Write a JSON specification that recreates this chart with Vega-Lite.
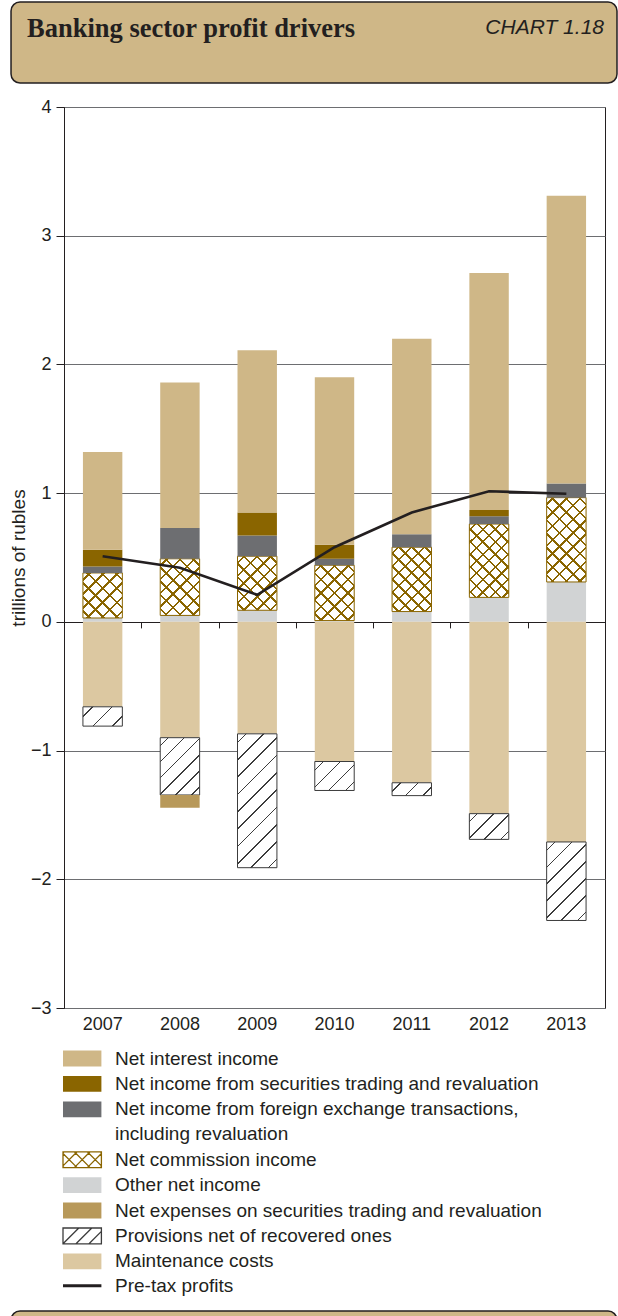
{
"$schema": "https://vega.github.io/schema/vega-lite/v6.json",
"background": "white",
"padding": {"left": 8, "top": 1, "right": 0, "bottom": 0},
"columns": 1,
"spacing": 13,
"resolve": {"legend": {"color": "independent", "shape": "independent", "stroke": "independent"}},
"config": {"font": "Liberation Sans", "style": {"guide-label": {"lineHeight": 25.2}}},
"datasets": {
"bars": [
{"year":2007,"series":"Other net income","k":1,"value":0.03},
{"year":2007,"series":"Net commission income","k":2,"value":0.35},
{"year":2007,"series":"Net income from foreign exchange transactions, including revaluation","k":3,"value":0.05},
{"year":2007,"series":"Net income from securities trading and revaluation","k":4,"value":0.13},
{"year":2007,"series":"Net interest income","k":5,"value":0.76},
{"year":2007,"series":"Maintenance costs","k":6,"value":-0.66},
{"year":2007,"series":"Provisions net of recovered ones","k":7,"value":-0.15},
{"year":2008,"series":"Other net income","k":1,"value":0.05},
{"year":2008,"series":"Net commission income","k":2,"value":0.44},
{"year":2008,"series":"Net income from foreign exchange transactions, including revaluation","k":3,"value":0.24},
{"year":2008,"series":"Net interest income","k":5,"value":1.13},
{"year":2008,"series":"Maintenance costs","k":6,"value":-0.90},
{"year":2008,"series":"Provisions net of recovered ones","k":7,"value":-0.445},
{"year":2008,"series":"Net expenses on securities trading and revaluation","k":8,"value":-0.10},
{"year":2009,"series":"Other net income","k":1,"value":0.09},
{"year":2009,"series":"Net commission income","k":2,"value":0.42},
{"year":2009,"series":"Net income from foreign exchange transactions, including revaluation","k":3,"value":0.16},
{"year":2009,"series":"Net income from securities trading and revaluation","k":4,"value":0.18},
{"year":2009,"series":"Net interest income","k":5,"value":1.26},
{"year":2009,"series":"Maintenance costs","k":6,"value":-0.87},
{"year":2009,"series":"Provisions net of recovered ones","k":7,"value":-1.04},
{"year":2010,"series":"Other net income","k":1,"value":0.01},
{"year":2010,"series":"Net commission income","k":2,"value":0.43},
{"year":2010,"series":"Net income from foreign exchange transactions, including revaluation","k":3,"value":0.05},
{"year":2010,"series":"Net income from securities trading and revaluation","k":4,"value":0.11},
{"year":2010,"series":"Net interest income","k":5,"value":1.30},
{"year":2010,"series":"Maintenance costs","k":6,"value":-1.085},
{"year":2010,"series":"Provisions net of recovered ones","k":7,"value":-0.225},
{"year":2011,"series":"Other net income","k":1,"value":0.08},
{"year":2011,"series":"Net commission income","k":2,"value":0.50},
{"year":2011,"series":"Net income from foreign exchange transactions, including revaluation","k":3,"value":0.10},
{"year":2011,"series":"Net interest income","k":5,"value":1.52},
{"year":2011,"series":"Maintenance costs","k":6,"value":-1.25},
{"year":2011,"series":"Provisions net of recovered ones","k":7,"value":-0.10},
{"year":2012,"series":"Other net income","k":1,"value":0.19},
{"year":2012,"series":"Net commission income","k":2,"value":0.57},
{"year":2012,"series":"Net income from foreign exchange transactions, including revaluation","k":3,"value":0.06},
{"year":2012,"series":"Net income from securities trading and revaluation","k":4,"value":0.05},
{"year":2012,"series":"Net interest income","k":5,"value":1.84},
{"year":2012,"series":"Maintenance costs","k":6,"value":-1.49},
{"year":2012,"series":"Provisions net of recovered ones","k":7,"value":-0.20},
{"year":2013,"series":"Other net income","k":1,"value":0.31},
{"year":2013,"series":"Net commission income","k":2,"value":0.655},
{"year":2013,"series":"Net income from foreign exchange transactions, including revaluation","k":3,"value":0.11},
{"year":2013,"series":"Net interest income","k":5,"value":2.235},
{"year":2013,"series":"Maintenance costs","k":6,"value":-1.71},
{"year":2013,"series":"Provisions net of recovered ones","k":7,"value":-0.61}
],
"profit": [
{"year":2007,"profit":0.51},
{"year":2008,"profit":0.42},
{"year":2009,"profit":0.21},
{"year":2010,"profit":0.58},
{"year":2011,"profit":0.85},
{"year":2012,"profit":1.015},
{"year":2013,"profit":0.995}
]
},
"concat": [
{
"width": 553, "height": 81,
"view": {"stroke": null},
"data": {"values": [{}]},
"layer": [
{"mark": {"type": "rect", "fill": "#cfb787", "stroke": "#231f20", "strokeWidth": 1.5, "cornerRadius": 9},
 "encoding": {"x": {"datum": -0.0958, "type": "quantitative", "scale": {"domain": [0, 1]}, "axis": null}, "x2": {"datum": 1},
              "y": {"datum": 0, "type": "quantitative", "scale": {"domain": [0, 1]}, "axis": null}, "y2": {"datum": 1}}},
{"mark": {"type": "text", "text": "Banking sector profit drivers", "font": "Liberation Serif", "fontWeight": "bold", "fontSize": 26.5, "align": "left", "baseline": "alphabetic", "color": "#231f20", "dx": 16},
 "encoding": {"x": {"datum": -0.0958, "type": "quantitative", "scale": {"domain": [0, 1]}, "axis": null},
              "y": {"datum": 0.568, "type": "quantitative", "scale": {"domain": [0, 1]}, "axis": null}}},
{"mark": {"type": "text", "text": "CHART 1.18", "font": "Liberation Sans", "fontStyle": "italic", "fontSize": 21, "align": "right", "baseline": "alphabetic", "color": "#231f20", "dx": -13},
 "encoding": {"x": {"datum": 1, "type": "quantitative", "scale": {"domain": [0, 1]}, "axis": null},
              "y": {"datum": 0.605, "type": "quantitative", "scale": {"domain": [0, 1]}, "axis": null}}}
]
},
{
"width": 541, "height": 901,
"view": {"stroke": "#231f20", "strokeWidth": 1},
"resolve": {"axis": {"x": "independent"}},
"layer": [
{
"data": {"name": "bars"},
"transform": [{"stack": "value", "groupby": ["year"], "sort": [{"field": "k", "order": "ascending"}], "as": ["v0", "v1"]}],
"encoding": {
 "x": {"field": "year", "type": "ordinal", "scale": {"paddingInner": 0.49, "paddingOuter": 0.245},
       "axis": {"orient": "bottom", "title": null, "labelFont": "Liberation Sans", "labelFontSize": 18, "labelColor": "#231f20", "labelPadding": 7, "ticks": false, "domain": false, "labelAngle": 0}},
 "y": {"field": "v1", "type": "quantitative", "scale": {"domain": [-3, 4], "nice": false},
       "axis": {"title": "trillions of rubles", "titleFont": "Liberation Sans", "titleFontSize": 19, "titleFontWeight": "normal", "titleColor": "#231f20", "titlePadding": 2, "values": [-3, -2, -1, 0, 1, 2, 3, 4], "labelFont": "Liberation Sans", "labelFontSize": 18, "labelColor": "#231f20", "labelPadding": 5, "tickSize": 8, "tickColor": "#231f20", "domainColor": "#231f20", "grid": true, "gridColor": {"condition": {"test": "datum.value === 0", "value": "#231f20"}, "value": "#6d6e71"}, "gridWidth": 1}},
 "y2": {"field": "v0"}
},
"layer": [
{
"mark": {"type": "bar", "strokeWidth": 1},
"encoding": {
 "color": {"field": "series", "type": "nominal",
   "scale": {"domain": ["Net interest income", "Net income from securities trading and revaluation", "Net income from foreign exchange transactions, including revaluation", "Net commission income", "Other net income", "Net expenses on securities trading and revaluation", "Provisions net of recovered ones", "Maintenance costs", "Pre-tax profits"],
             "range": ["#cfb787", "#8a6500", "#6d6e71", "#ffffff", "#d1d3d4", "#b8995a", "#ffffff", "#dcc8a1", "#231f20"]},
   "legend": {"orient": "none", "legendX": 8.7, "legendY": 942, "title": null, "direction": "vertical", "padding": 0,
     "symbolSize": 289, "symbolStrokeWidth": 1.3, "symbolOpacity": 1, "symbolType": "M-2.259,-0.929H2.259V0.929H-2.259Z",
     "labelFont": "Liberation Sans", "labelFontSize": 19, "labelColor": "#231f20", "labelOffset": 23.3, "labelLimit": 700, "rowPadding": 4.4,
     "labelExpr": "datum.value === 'Net income from foreign exchange transactions, including revaluation' ? ['Net income from foreign exchange transactions,', 'including revaluation'] : datum.label"
   }
 },
 "stroke": {"condition": [{"test": "datum.k == 2", "value": "#8a6500"}, {"test": "datum.k == 7", "value": "#3c3c3c"}], "value": null}
}
},
{
"transform": [{"filter": "false"}],
"mark": {"type": "point", "opacity": 1, "filled": false},
"encoding": {
 "y2": null,
 "shape": {"field": "series", "type": "nominal",
   "scale": {"domain": ["Net interest income", "Net income from securities trading and revaluation", "Net income from foreign exchange transactions, including revaluation", "Net commission income", "Other net income", "Net expenses on securities trading and revaluation", "Provisions net of recovered ones", "Maintenance costs", "Pre-tax profits"],
             "range": ["M-2.259,-0.929H2.259V0.929H-2.259Z", "M-2.259,-0.929H2.259V0.929H-2.259Z", "M-2.259,-0.929H2.259V0.929H-2.259Z",
                       "M-2.259,-0.929H2.259V0.929H-2.259Z M-2.259,0.8L-2.129,0.929 M-2.259,-0.729L-0.6,0.929 M-0.929,-0.929L0.929,0.929 M0.6,-0.929L2.259,0.729 M2.129,-0.929L2.259,-0.8 M-2.259,-0.8L-2.129,-0.929 M-2.259,0.729L-0.6,-0.929 M-0.929,0.929L0.929,-0.929 M0.6,0.929L2.259,-0.729 M2.129,0.929L2.259,0.8",
                       "M-2.259,-0.929H2.259V0.929H-2.259Z", "M-2.259,-0.929H2.259V0.929H-2.259Z",
                       "M-2.259,-0.929H2.259V0.929H-2.259Z M-2.259,0.929L-0.4,-0.929 M-0.729,0.929L1.129,-0.929 M0.8,0.929L2.259,-0.529",
                       "M-2.259,-0.929H2.259V0.929H-2.259Z", "M-2.259,-0.18H2.259V0.18H-2.259Z"]}},
 "stroke": {"field": "series", "type": "nominal",
   "scale": {"domain": ["Net interest income", "Net income from securities trading and revaluation", "Net income from foreign exchange transactions, including revaluation", "Net commission income", "Other net income", "Net expenses on securities trading and revaluation", "Provisions net of recovered ones", "Maintenance costs", "Pre-tax profits"],
             "range": ["transparent", "transparent", "transparent", "#8a6500", "transparent", "transparent", "#3c3c3c", "transparent", "transparent"]}}
}
},
{
"transform": [{"filter": "datum.k == 7"}],
"mark": {"type": "bar"},
"encoding": {"fill": {"condition": [
{"test": "datum.year == 2007", "value": {"gradient": "linear", "x1": 0, "y1": 0, "x2": 1.2015, "y2": 0.5886, "stops": [
{"offset":0.1539,"color":"#fff0"},{"offset":0.1539,"color":"#3c3c3c"},{"offset":0.1795,"color":"#3c3c3c"},{"offset":0.1795,"color":"#fff0"},
{"offset":0.4872,"color":"#fff0"},{"offset":0.4872,"color":"#3c3c3c"},{"offset":0.5128,"color":"#3c3c3c"},{"offset":0.5128,"color":"#fff0"},
{"offset":0.8205,"color":"#fff0"},{"offset":0.8205,"color":"#3c3c3c"},{"offset":0.8461,"color":"#3c3c3c"},{"offset":0.8461,"color":"#fff0"}]}},
{"test": "datum.year == 2008", "value": {"gradient": "linear", "x1": 0, "y1": 0, "x2": 0.7879, "y2": 1.1458, "stops": [
{"offset":0.0756,"color":"#fff0"},{"offset":0.0756,"color":"#3c3c3c"},{"offset":0.091,"color":"#3c3c3c"},{"offset":0.091,"color":"#fff0"},
{"offset":0.2423,"color":"#fff0"},{"offset":0.2423,"color":"#3c3c3c"},{"offset":0.2577,"color":"#3c3c3c"},{"offset":0.2577,"color":"#fff0"},
{"offset":0.409,"color":"#fff0"},{"offset":0.409,"color":"#3c3c3c"},{"offset":0.4244,"color":"#3c3c3c"},{"offset":0.4244,"color":"#fff0"},
{"offset":0.5756,"color":"#fff0"},{"offset":0.5756,"color":"#3c3c3c"},{"offset":0.591,"color":"#3c3c3c"},{"offset":0.591,"color":"#fff0"},
{"offset":0.7423,"color":"#fff0"},{"offset":0.7423,"color":"#3c3c3c"},{"offset":0.7577,"color":"#3c3c3c"},{"offset":0.7577,"color":"#fff0"},
{"offset":0.909,"color":"#fff0"},{"offset":0.909,"color":"#3c3c3c"},{"offset":0.9244,"color":"#3c3c3c"},{"offset":0.9244,"color":"#fff0"}]}},
{"test": "datum.year == 2009", "value": {"gradient": "linear", "x1": 0, "y1": 0, "x2": 0.3505, "y2": 1.1911, "stops": [
{"offset":0.0457,"color":"#fff0"},{"offset":0.0457,"color":"#3c3c3c"},{"offset":0.0543,"color":"#3c3c3c"},{"offset":0.0543,"color":"#fff0"},
{"offset":0.1457,"color":"#fff0"},{"offset":0.1457,"color":"#3c3c3c"},{"offset":0.1543,"color":"#3c3c3c"},{"offset":0.1543,"color":"#fff0"},
{"offset":0.2457,"color":"#fff0"},{"offset":0.2457,"color":"#3c3c3c"},{"offset":0.2543,"color":"#3c3c3c"},{"offset":0.2543,"color":"#fff0"},
{"offset":0.3457,"color":"#fff0"},{"offset":0.3457,"color":"#3c3c3c"},{"offset":0.3543,"color":"#3c3c3c"},{"offset":0.3543,"color":"#fff0"},
{"offset":0.4457,"color":"#fff0"},{"offset":0.4457,"color":"#3c3c3c"},{"offset":0.4543,"color":"#3c3c3c"},{"offset":0.4543,"color":"#fff0"},
{"offset":0.5457,"color":"#fff0"},{"offset":0.5457,"color":"#3c3c3c"},{"offset":0.5543,"color":"#3c3c3c"},{"offset":0.5543,"color":"#fff0"},
{"offset":0.6457,"color":"#fff0"},{"offset":0.6457,"color":"#3c3c3c"},{"offset":0.6543,"color":"#3c3c3c"},{"offset":0.6543,"color":"#fff0"},
{"offset":0.7457,"color":"#fff0"},{"offset":0.7457,"color":"#3c3c3c"},{"offset":0.7543,"color":"#3c3c3c"},{"offset":0.7543,"color":"#fff0"},
{"offset":0.8457,"color":"#fff0"},{"offset":0.8457,"color":"#3c3c3c"},{"offset":0.8543,"color":"#3c3c3c"},{"offset":0.8543,"color":"#fff0"},
{"offset":0.9457,"color":"#fff0"},{"offset":0.9457,"color":"#3c3c3c"},{"offset":0.9543,"color":"#3c3c3c"},{"offset":0.9543,"color":"#fff0"}]}},
{"test": "datum.year == 2010", "value": {"gradient": "linear", "x1": 0, "y1": 0, "x2": 1.126, "y2": 0.8288, "stops": [
{"offset":0.114,"color":"#fff0"},{"offset":0.114,"color":"#3c3c3c"},{"offset":0.136,"color":"#3c3c3c"},{"offset":0.136,"color":"#fff0"},
{"offset":0.364,"color":"#fff0"},{"offset":0.364,"color":"#3c3c3c"},{"offset":0.386,"color":"#3c3c3c"},{"offset":0.386,"color":"#fff0"},
{"offset":0.614,"color":"#fff0"},{"offset":0.614,"color":"#3c3c3c"},{"offset":0.636,"color":"#3c3c3c"},{"offset":0.636,"color":"#fff0"},
{"offset":0.864,"color":"#fff0"},{"offset":0.864,"color":"#3c3c3c"},{"offset":0.886,"color":"#3c3c3c"},{"offset":0.886,"color":"#fff0"}]}},
{"test": "datum.year == 2011", "value": {"gradient": "linear", "x1": 0, "y1": 0, "x2": 1.1989, "y2": 0.3925, "stops": [
{"offset":0.1524,"color":"#fff0"},{"offset":0.1524,"color":"#3c3c3c"},{"offset":0.181,"color":"#3c3c3c"},{"offset":0.181,"color":"#fff0"},
{"offset":0.4857,"color":"#fff0"},{"offset":0.4857,"color":"#3c3c3c"},{"offset":0.5143,"color":"#3c3c3c"},{"offset":0.5143,"color":"#fff0"},
{"offset":0.819,"color":"#fff0"},{"offset":0.819,"color":"#3c3c3c"},{"offset":0.8476,"color":"#3c3c3c"},{"offset":0.8476,"color":"#fff0"}]}},
{"test": "datum.year == 2012", "value": {"gradient": "linear", "x1": 0, "y1": 0, "x2": 1.1591, "y2": 0.7561, "stops": [
{"offset":0.1135,"color":"#fff0"},{"offset":0.1135,"color":"#3c3c3c"},{"offset":0.1365,"color":"#3c3c3c"},{"offset":0.1365,"color":"#fff0"},
{"offset":0.3635,"color":"#fff0"},{"offset":0.3635,"color":"#3c3c3c"},{"offset":0.3865,"color":"#3c3c3c"},{"offset":0.3865,"color":"#fff0"},
{"offset":0.6135,"color":"#fff0"},{"offset":0.6135,"color":"#3c3c3c"},{"offset":0.6365,"color":"#3c3c3c"},{"offset":0.6365,"color":"#fff0"},
{"offset":0.8635,"color":"#fff0"},{"offset":0.8635,"color":"#3c3c3c"},{"offset":0.8865,"color":"#3c3c3c"},{"offset":0.8865,"color":"#fff0"}]}},
{"test": "datum.year == 2013", "value": {"gradient": "linear", "x1": 0, "y1": 0, "x2": 0.6021, "y2": 1.1997, "stops": [
{"offset":0.065,"color":"#fff0"},{"offset":0.065,"color":"#3c3c3c"},{"offset":0.0778,"color":"#3c3c3c"},{"offset":0.0778,"color":"#fff0"},
{"offset":0.2079,"color":"#fff0"},{"offset":0.2079,"color":"#3c3c3c"},{"offset":0.2207,"color":"#3c3c3c"},{"offset":0.2207,"color":"#fff0"},
{"offset":0.3507,"color":"#fff0"},{"offset":0.3507,"color":"#3c3c3c"},{"offset":0.3635,"color":"#3c3c3c"},{"offset":0.3635,"color":"#fff0"},
{"offset":0.4936,"color":"#fff0"},{"offset":0.4936,"color":"#3c3c3c"},{"offset":0.5064,"color":"#3c3c3c"},{"offset":0.5064,"color":"#fff0"},
{"offset":0.6365,"color":"#fff0"},{"offset":0.6365,"color":"#3c3c3c"},{"offset":0.6493,"color":"#3c3c3c"},{"offset":0.6493,"color":"#fff0"},
{"offset":0.7793,"color":"#fff0"},{"offset":0.7793,"color":"#3c3c3c"},{"offset":0.7921,"color":"#3c3c3c"},{"offset":0.7921,"color":"#fff0"},
{"offset":0.9222,"color":"#fff0"},{"offset":0.9222,"color":"#3c3c3c"},{"offset":0.935,"color":"#3c3c3c"},{"offset":0.935,"color":"#fff0"}]}}
], "value": "#fff0"}}
},
{
"transform": [{"filter": "datum.k == 2"}],
"mark": {"type": "bar"},
"encoding": {"fill": {"condition": [
{"test": "datum.year == 2007", "value": {"gradient": "linear", "x1": 0, "y1": 0, "x2": 0.9289, "y2": 1.0621, "stops": [
{"offset":0.0691,"color":"#fff0"},{"offset":0.0691,"color":"#8a6500"},{"offset":0.0975,"color":"#8a6500"},{"offset":0.0975,"color":"#fff0"},
{"offset":0.2358,"color":"#fff0"},{"offset":0.2358,"color":"#8a6500"},{"offset":0.2642,"color":"#8a6500"},{"offset":0.2642,"color":"#fff0"},
{"offset":0.4025,"color":"#fff0"},{"offset":0.4025,"color":"#8a6500"},{"offset":0.4309,"color":"#8a6500"},{"offset":0.4309,"color":"#fff0"},
{"offset":0.5691,"color":"#fff0"},{"offset":0.5691,"color":"#8a6500"},{"offset":0.5975,"color":"#8a6500"},{"offset":0.5975,"color":"#fff0"},
{"offset":0.7358,"color":"#fff0"},{"offset":0.7358,"color":"#8a6500"},{"offset":0.7642,"color":"#8a6500"},{"offset":0.7642,"color":"#fff0"},
{"offset":0.9025,"color":"#fff0"},{"offset":0.9025,"color":"#8a6500"},{"offset":0.9309,"color":"#8a6500"},{"offset":0.9309,"color":"#fff0"}]}},
{"test": "datum.year == 2008", "value": {"gradient": "linear", "x1": 0, "y1": 0, "x2": 0.7953, "y2": 1.1425, "stops": [
{"offset":0.0589,"color":"#fff0"},{"offset":0.0589,"color":"#8a6500"},{"offset":0.0839,"color":"#8a6500"},{"offset":0.0839,"color":"#fff0"},
{"offset":0.2018,"color":"#fff0"},{"offset":0.2018,"color":"#8a6500"},{"offset":0.2268,"color":"#8a6500"},{"offset":0.2268,"color":"#fff0"},
{"offset":0.3446,"color":"#fff0"},{"offset":0.3446,"color":"#8a6500"},{"offset":0.3696,"color":"#8a6500"},{"offset":0.3696,"color":"#fff0"},
{"offset":0.4875,"color":"#fff0"},{"offset":0.4875,"color":"#8a6500"},{"offset":0.5125,"color":"#8a6500"},{"offset":0.5125,"color":"#fff0"},
{"offset":0.6304,"color":"#fff0"},{"offset":0.6304,"color":"#8a6500"},{"offset":0.6554,"color":"#8a6500"},{"offset":0.6554,"color":"#fff0"},
{"offset":0.7732,"color":"#fff0"},{"offset":0.7732,"color":"#8a6500"},{"offset":0.7982,"color":"#8a6500"},{"offset":0.7982,"color":"#fff0"},
{"offset":0.9161,"color":"#fff0"},{"offset":0.9161,"color":"#8a6500"},{"offset":0.9411,"color":"#8a6500"},{"offset":0.9411,"color":"#fff0"}]}},
{"test": "datum.year == 2009", "value": {"gradient": "linear", "x1": 0, "y1": 0, "x2": 0.8229, "y2": 1.1291, "stops": [
{"offset":0.0586,"color":"#fff0"},{"offset":0.0586,"color":"#8a6500"},{"offset":0.0842,"color":"#8a6500"},{"offset":0.0842,"color":"#fff0"},
{"offset":0.2015,"color":"#fff0"},{"offset":0.2015,"color":"#8a6500"},{"offset":0.2271,"color":"#8a6500"},{"offset":0.2271,"color":"#fff0"},
{"offset":0.3443,"color":"#fff0"},{"offset":0.3443,"color":"#8a6500"},{"offset":0.3699,"color":"#8a6500"},{"offset":0.3699,"color":"#fff0"},
{"offset":0.4872,"color":"#fff0"},{"offset":0.4872,"color":"#8a6500"},{"offset":0.5128,"color":"#8a6500"},{"offset":0.5128,"color":"#fff0"},
{"offset":0.6301,"color":"#fff0"},{"offset":0.6301,"color":"#8a6500"},{"offset":0.6557,"color":"#8a6500"},{"offset":0.6557,"color":"#fff0"},
{"offset":0.7729,"color":"#fff0"},{"offset":0.7729,"color":"#8a6500"},{"offset":0.7985,"color":"#8a6500"},{"offset":0.7985,"color":"#fff0"},
{"offset":0.9158,"color":"#fff0"},{"offset":0.9158,"color":"#8a6500"},{"offset":0.9414,"color":"#8a6500"},{"offset":0.9414,"color":"#fff0"}]}},
{"test": "datum.year == 2010", "value": {"gradient": "linear", "x1": 0, "y1": 0, "x2": 0.8087, "y2": 1.1361, "stops": [
{"offset":0.0587,"color":"#fff0"},{"offset":0.0587,"color":"#8a6500"},{"offset":0.0841,"color":"#8a6500"},{"offset":0.0841,"color":"#fff0"},
{"offset":0.2016,"color":"#fff0"},{"offset":0.2016,"color":"#8a6500"},{"offset":0.227,"color":"#8a6500"},{"offset":0.227,"color":"#fff0"},
{"offset":0.3444,"color":"#fff0"},{"offset":0.3444,"color":"#8a6500"},{"offset":0.3698,"color":"#8a6500"},{"offset":0.3698,"color":"#fff0"},
{"offset":0.4873,"color":"#fff0"},{"offset":0.4873,"color":"#8a6500"},{"offset":0.5127,"color":"#8a6500"},{"offset":0.5127,"color":"#fff0"},
{"offset":0.6302,"color":"#fff0"},{"offset":0.6302,"color":"#8a6500"},{"offset":0.6556,"color":"#8a6500"},{"offset":0.6556,"color":"#fff0"},
{"offset":0.773,"color":"#fff0"},{"offset":0.773,"color":"#8a6500"},{"offset":0.7984,"color":"#8a6500"},{"offset":0.7984,"color":"#fff0"},
{"offset":0.9159,"color":"#fff0"},{"offset":0.9159,"color":"#8a6500"},{"offset":0.9413,"color":"#8a6500"},{"offset":0.9413,"color":"#fff0"}]}},
{"test": "datum.year == 2011", "value": {"gradient": "linear", "x1": 0, "y1": 0, "x2": 0.7175, "y2": 1.1728, "stops": [
{"offset":0.0509,"color":"#fff0"},{"offset":0.0509,"color":"#8a6500"},{"offset":0.0741,"color":"#8a6500"},{"offset":0.0741,"color":"#fff0"},
{"offset":0.1759,"color":"#fff0"},{"offset":0.1759,"color":"#8a6500"},{"offset":0.1991,"color":"#8a6500"},{"offset":0.1991,"color":"#fff0"},
{"offset":0.3009,"color":"#fff0"},{"offset":0.3009,"color":"#8a6500"},{"offset":0.3241,"color":"#8a6500"},{"offset":0.3241,"color":"#fff0"},
{"offset":0.4259,"color":"#fff0"},{"offset":0.4259,"color":"#8a6500"},{"offset":0.4491,"color":"#8a6500"},{"offset":0.4491,"color":"#fff0"},
{"offset":0.5509,"color":"#fff0"},{"offset":0.5509,"color":"#8a6500"},{"offset":0.5741,"color":"#8a6500"},{"offset":0.5741,"color":"#fff0"},
{"offset":0.6759,"color":"#fff0"},{"offset":0.6759,"color":"#8a6500"},{"offset":0.6991,"color":"#8a6500"},{"offset":0.6991,"color":"#fff0"},
{"offset":0.8009,"color":"#fff0"},{"offset":0.8009,"color":"#8a6500"},{"offset":0.8241,"color":"#8a6500"},{"offset":0.8241,"color":"#fff0"},
{"offset":0.9259,"color":"#fff0"},{"offset":0.9259,"color":"#8a6500"},{"offset":0.9491,"color":"#8a6500"},{"offset":0.9491,"color":"#fff0"}]}},
{"test": "datum.year == 2012", "value": {"gradient": "linear", "x1": 0, "y1": 0, "x2": 0.6404, "y2": 1.193, "stops": [
{"offset":0.045,"color":"#fff0"},{"offset":0.045,"color":"#8a6500"},{"offset":0.0662,"color":"#8a6500"},{"offset":0.0662,"color":"#fff0"},
{"offset":0.1561,"color":"#fff0"},{"offset":0.1561,"color":"#8a6500"},{"offset":0.1773,"color":"#8a6500"},{"offset":0.1773,"color":"#fff0"},
{"offset":0.2672,"color":"#fff0"},{"offset":0.2672,"color":"#8a6500"},{"offset":0.2884,"color":"#8a6500"},{"offset":0.2884,"color":"#fff0"},
{"offset":0.3783,"color":"#fff0"},{"offset":0.3783,"color":"#8a6500"},{"offset":0.3995,"color":"#8a6500"},{"offset":0.3995,"color":"#fff0"},
{"offset":0.4894,"color":"#fff0"},{"offset":0.4894,"color":"#8a6500"},{"offset":0.5106,"color":"#8a6500"},{"offset":0.5106,"color":"#fff0"},
{"offset":0.6005,"color":"#fff0"},{"offset":0.6005,"color":"#8a6500"},{"offset":0.6217,"color":"#8a6500"},{"offset":0.6217,"color":"#fff0"},
{"offset":0.7116,"color":"#fff0"},{"offset":0.7116,"color":"#8a6500"},{"offset":0.7328,"color":"#8a6500"},{"offset":0.7328,"color":"#fff0"},
{"offset":0.8227,"color":"#fff0"},{"offset":0.8227,"color":"#8a6500"},{"offset":0.8439,"color":"#8a6500"},{"offset":0.8439,"color":"#fff0"},
{"offset":0.9338,"color":"#fff0"},{"offset":0.9338,"color":"#8a6500"},{"offset":0.955,"color":"#8a6500"},{"offset":0.955,"color":"#fff0"}]}},
{"test": "datum.year == 2013", "value": {"gradient": "linear", "x1": 0, "y1": 0, "x2": 0.5629, "y2": 1.2043, "stops": [
{"offset":0.0459,"color":"#fff0"},{"offset":0.0459,"color":"#8a6500"},{"offset":0.0653,"color":"#8a6500"},{"offset":0.0653,"color":"#fff0"},
{"offset":0.157,"color":"#fff0"},{"offset":0.157,"color":"#8a6500"},{"offset":0.1764,"color":"#8a6500"},{"offset":0.1764,"color":"#fff0"},
{"offset":0.2681,"color":"#fff0"},{"offset":0.2681,"color":"#8a6500"},{"offset":0.2875,"color":"#8a6500"},{"offset":0.2875,"color":"#fff0"},
{"offset":0.3792,"color":"#fff0"},{"offset":0.3792,"color":"#8a6500"},{"offset":0.3986,"color":"#8a6500"},{"offset":0.3986,"color":"#fff0"},
{"offset":0.4903,"color":"#fff0"},{"offset":0.4903,"color":"#8a6500"},{"offset":0.5097,"color":"#8a6500"},{"offset":0.5097,"color":"#fff0"},
{"offset":0.6014,"color":"#fff0"},{"offset":0.6014,"color":"#8a6500"},{"offset":0.6208,"color":"#8a6500"},{"offset":0.6208,"color":"#fff0"},
{"offset":0.7125,"color":"#fff0"},{"offset":0.7125,"color":"#8a6500"},{"offset":0.7319,"color":"#8a6500"},{"offset":0.7319,"color":"#fff0"},
{"offset":0.8236,"color":"#fff0"},{"offset":0.8236,"color":"#8a6500"},{"offset":0.843,"color":"#8a6500"},{"offset":0.843,"color":"#fff0"},
{"offset":0.9347,"color":"#fff0"},{"offset":0.9347,"color":"#8a6500"},{"offset":0.9541,"color":"#8a6500"},{"offset":0.9541,"color":"#fff0"}]}}
], "value": "#fff0"}}
},
{
"transform": [{"filter": "datum.k == 2"}],
"mark": {"type": "bar"},
"encoding": {"fill": {"condition": [
{"test": "datum.year == 2007", "value": {"gradient": "linear", "x1": 0, "y1": 1, "x2": 0.9289, "y2": -0.0621, "stops": [
{"offset":0.0691,"color":"#fff0"},{"offset":0.0691,"color":"#8a6500"},{"offset":0.0975,"color":"#8a6500"},{"offset":0.0975,"color":"#fff0"},
{"offset":0.2358,"color":"#fff0"},{"offset":0.2358,"color":"#8a6500"},{"offset":0.2642,"color":"#8a6500"},{"offset":0.2642,"color":"#fff0"},
{"offset":0.4025,"color":"#fff0"},{"offset":0.4025,"color":"#8a6500"},{"offset":0.4309,"color":"#8a6500"},{"offset":0.4309,"color":"#fff0"},
{"offset":0.5691,"color":"#fff0"},{"offset":0.5691,"color":"#8a6500"},{"offset":0.5975,"color":"#8a6500"},{"offset":0.5975,"color":"#fff0"},
{"offset":0.7358,"color":"#fff0"},{"offset":0.7358,"color":"#8a6500"},{"offset":0.7642,"color":"#8a6500"},{"offset":0.7642,"color":"#fff0"},
{"offset":0.9025,"color":"#fff0"},{"offset":0.9025,"color":"#8a6500"},{"offset":0.9309,"color":"#8a6500"},{"offset":0.9309,"color":"#fff0"}]}},
{"test": "datum.year == 2008", "value": {"gradient": "linear", "x1": 0, "y1": 1, "x2": 0.7953, "y2": -0.1425, "stops": [
{"offset":0.0589,"color":"#fff0"},{"offset":0.0589,"color":"#8a6500"},{"offset":0.0839,"color":"#8a6500"},{"offset":0.0839,"color":"#fff0"},
{"offset":0.2018,"color":"#fff0"},{"offset":0.2018,"color":"#8a6500"},{"offset":0.2268,"color":"#8a6500"},{"offset":0.2268,"color":"#fff0"},
{"offset":0.3446,"color":"#fff0"},{"offset":0.3446,"color":"#8a6500"},{"offset":0.3696,"color":"#8a6500"},{"offset":0.3696,"color":"#fff0"},
{"offset":0.4875,"color":"#fff0"},{"offset":0.4875,"color":"#8a6500"},{"offset":0.5125,"color":"#8a6500"},{"offset":0.5125,"color":"#fff0"},
{"offset":0.6304,"color":"#fff0"},{"offset":0.6304,"color":"#8a6500"},{"offset":0.6554,"color":"#8a6500"},{"offset":0.6554,"color":"#fff0"},
{"offset":0.7732,"color":"#fff0"},{"offset":0.7732,"color":"#8a6500"},{"offset":0.7982,"color":"#8a6500"},{"offset":0.7982,"color":"#fff0"},
{"offset":0.9161,"color":"#fff0"},{"offset":0.9161,"color":"#8a6500"},{"offset":0.9411,"color":"#8a6500"},{"offset":0.9411,"color":"#fff0"}]}},
{"test": "datum.year == 2009", "value": {"gradient": "linear", "x1": 0, "y1": 1, "x2": 0.8229, "y2": -0.1291, "stops": [
{"offset":0.0586,"color":"#fff0"},{"offset":0.0586,"color":"#8a6500"},{"offset":0.0842,"color":"#8a6500"},{"offset":0.0842,"color":"#fff0"},
{"offset":0.2015,"color":"#fff0"},{"offset":0.2015,"color":"#8a6500"},{"offset":0.2271,"color":"#8a6500"},{"offset":0.2271,"color":"#fff0"},
{"offset":0.3443,"color":"#fff0"},{"offset":0.3443,"color":"#8a6500"},{"offset":0.3699,"color":"#8a6500"},{"offset":0.3699,"color":"#fff0"},
{"offset":0.4872,"color":"#fff0"},{"offset":0.4872,"color":"#8a6500"},{"offset":0.5128,"color":"#8a6500"},{"offset":0.5128,"color":"#fff0"},
{"offset":0.6301,"color":"#fff0"},{"offset":0.6301,"color":"#8a6500"},{"offset":0.6557,"color":"#8a6500"},{"offset":0.6557,"color":"#fff0"},
{"offset":0.7729,"color":"#fff0"},{"offset":0.7729,"color":"#8a6500"},{"offset":0.7985,"color":"#8a6500"},{"offset":0.7985,"color":"#fff0"},
{"offset":0.9158,"color":"#fff0"},{"offset":0.9158,"color":"#8a6500"},{"offset":0.9414,"color":"#8a6500"},{"offset":0.9414,"color":"#fff0"}]}},
{"test": "datum.year == 2010", "value": {"gradient": "linear", "x1": 0, "y1": 1, "x2": 0.8087, "y2": -0.1361, "stops": [
{"offset":0.0587,"color":"#fff0"},{"offset":0.0587,"color":"#8a6500"},{"offset":0.0841,"color":"#8a6500"},{"offset":0.0841,"color":"#fff0"},
{"offset":0.2016,"color":"#fff0"},{"offset":0.2016,"color":"#8a6500"},{"offset":0.227,"color":"#8a6500"},{"offset":0.227,"color":"#fff0"},
{"offset":0.3444,"color":"#fff0"},{"offset":0.3444,"color":"#8a6500"},{"offset":0.3698,"color":"#8a6500"},{"offset":0.3698,"color":"#fff0"},
{"offset":0.4873,"color":"#fff0"},{"offset":0.4873,"color":"#8a6500"},{"offset":0.5127,"color":"#8a6500"},{"offset":0.5127,"color":"#fff0"},
{"offset":0.6302,"color":"#fff0"},{"offset":0.6302,"color":"#8a6500"},{"offset":0.6556,"color":"#8a6500"},{"offset":0.6556,"color":"#fff0"},
{"offset":0.773,"color":"#fff0"},{"offset":0.773,"color":"#8a6500"},{"offset":0.7984,"color":"#8a6500"},{"offset":0.7984,"color":"#fff0"},
{"offset":0.9159,"color":"#fff0"},{"offset":0.9159,"color":"#8a6500"},{"offset":0.9413,"color":"#8a6500"},{"offset":0.9413,"color":"#fff0"}]}},
{"test": "datum.year == 2011", "value": {"gradient": "linear", "x1": 0, "y1": 1, "x2": 0.7175, "y2": -0.1728, "stops": [
{"offset":0.0509,"color":"#fff0"},{"offset":0.0509,"color":"#8a6500"},{"offset":0.0741,"color":"#8a6500"},{"offset":0.0741,"color":"#fff0"},
{"offset":0.1759,"color":"#fff0"},{"offset":0.1759,"color":"#8a6500"},{"offset":0.1991,"color":"#8a6500"},{"offset":0.1991,"color":"#fff0"},
{"offset":0.3009,"color":"#fff0"},{"offset":0.3009,"color":"#8a6500"},{"offset":0.3241,"color":"#8a6500"},{"offset":0.3241,"color":"#fff0"},
{"offset":0.4259,"color":"#fff0"},{"offset":0.4259,"color":"#8a6500"},{"offset":0.4491,"color":"#8a6500"},{"offset":0.4491,"color":"#fff0"},
{"offset":0.5509,"color":"#fff0"},{"offset":0.5509,"color":"#8a6500"},{"offset":0.5741,"color":"#8a6500"},{"offset":0.5741,"color":"#fff0"},
{"offset":0.6759,"color":"#fff0"},{"offset":0.6759,"color":"#8a6500"},{"offset":0.6991,"color":"#8a6500"},{"offset":0.6991,"color":"#fff0"},
{"offset":0.8009,"color":"#fff0"},{"offset":0.8009,"color":"#8a6500"},{"offset":0.8241,"color":"#8a6500"},{"offset":0.8241,"color":"#fff0"},
{"offset":0.9259,"color":"#fff0"},{"offset":0.9259,"color":"#8a6500"},{"offset":0.9491,"color":"#8a6500"},{"offset":0.9491,"color":"#fff0"}]}},
{"test": "datum.year == 2012", "value": {"gradient": "linear", "x1": 0, "y1": 1, "x2": 0.6404, "y2": -0.193, "stops": [
{"offset":0.045,"color":"#fff0"},{"offset":0.045,"color":"#8a6500"},{"offset":0.0662,"color":"#8a6500"},{"offset":0.0662,"color":"#fff0"},
{"offset":0.1561,"color":"#fff0"},{"offset":0.1561,"color":"#8a6500"},{"offset":0.1773,"color":"#8a6500"},{"offset":0.1773,"color":"#fff0"},
{"offset":0.2672,"color":"#fff0"},{"offset":0.2672,"color":"#8a6500"},{"offset":0.2884,"color":"#8a6500"},{"offset":0.2884,"color":"#fff0"},
{"offset":0.3783,"color":"#fff0"},{"offset":0.3783,"color":"#8a6500"},{"offset":0.3995,"color":"#8a6500"},{"offset":0.3995,"color":"#fff0"},
{"offset":0.4894,"color":"#fff0"},{"offset":0.4894,"color":"#8a6500"},{"offset":0.5106,"color":"#8a6500"},{"offset":0.5106,"color":"#fff0"},
{"offset":0.6005,"color":"#fff0"},{"offset":0.6005,"color":"#8a6500"},{"offset":0.6217,"color":"#8a6500"},{"offset":0.6217,"color":"#fff0"},
{"offset":0.7116,"color":"#fff0"},{"offset":0.7116,"color":"#8a6500"},{"offset":0.7328,"color":"#8a6500"},{"offset":0.7328,"color":"#fff0"},
{"offset":0.8227,"color":"#fff0"},{"offset":0.8227,"color":"#8a6500"},{"offset":0.8439,"color":"#8a6500"},{"offset":0.8439,"color":"#fff0"},
{"offset":0.9338,"color":"#fff0"},{"offset":0.9338,"color":"#8a6500"},{"offset":0.955,"color":"#8a6500"},{"offset":0.955,"color":"#fff0"}]}},
{"test": "datum.year == 2013", "value": {"gradient": "linear", "x1": 0, "y1": 1, "x2": 0.5629, "y2": -0.2043, "stops": [
{"offset":0.0459,"color":"#fff0"},{"offset":0.0459,"color":"#8a6500"},{"offset":0.0653,"color":"#8a6500"},{"offset":0.0653,"color":"#fff0"},
{"offset":0.157,"color":"#fff0"},{"offset":0.157,"color":"#8a6500"},{"offset":0.1764,"color":"#8a6500"},{"offset":0.1764,"color":"#fff0"},
{"offset":0.2681,"color":"#fff0"},{"offset":0.2681,"color":"#8a6500"},{"offset":0.2875,"color":"#8a6500"},{"offset":0.2875,"color":"#fff0"},
{"offset":0.3792,"color":"#fff0"},{"offset":0.3792,"color":"#8a6500"},{"offset":0.3986,"color":"#8a6500"},{"offset":0.3986,"color":"#fff0"},
{"offset":0.4903,"color":"#fff0"},{"offset":0.4903,"color":"#8a6500"},{"offset":0.5097,"color":"#8a6500"},{"offset":0.5097,"color":"#fff0"},
{"offset":0.6014,"color":"#fff0"},{"offset":0.6014,"color":"#8a6500"},{"offset":0.6208,"color":"#8a6500"},{"offset":0.6208,"color":"#fff0"},
{"offset":0.7125,"color":"#fff0"},{"offset":0.7125,"color":"#8a6500"},{"offset":0.7319,"color":"#8a6500"},{"offset":0.7319,"color":"#fff0"},
{"offset":0.8236,"color":"#fff0"},{"offset":0.8236,"color":"#8a6500"},{"offset":0.843,"color":"#8a6500"},{"offset":0.843,"color":"#fff0"},
{"offset":0.9347,"color":"#fff0"},{"offset":0.9347,"color":"#8a6500"},{"offset":0.9541,"color":"#8a6500"},{"offset":0.9541,"color":"#fff0"}]}}
], "value": "#fff0"}}
}
]
},
{
"data": {"name": "profit"},
"mark": {"type": "line", "strokeWidth": 2.6, "stroke": "#231f20"},
"encoding": {
 "x": {"field": "year", "type": "ordinal",
       "axis": {"orient": "bottom", "title": null, "labels": false, "domain": false, "grid": false, "ticks": true, "tickSize": 6, "tickColor": "#231f20", "tickWidth": 1, "bandPosition": 0, "tickOffset": -18.93, "offset": -386.1}},
 "y": {"field": "profit", "type": "quantitative", "scale": {"domain": [-3, 4], "nice": false},
       "axis": {"title": "trillions of rubles", "titleFont": "Liberation Sans", "titleFontSize": 19, "titleFontWeight": "normal", "titleColor": "#231f20", "titlePadding": 2, "values": [-3, -2, -1, 0, 1, 2, 3, 4], "labelFont": "Liberation Sans", "labelFontSize": 18, "labelColor": "#231f20", "labelPadding": 5, "tickSize": 8, "tickColor": "#231f20", "domainColor": "#231f20", "grid": true, "gridColor": {"condition": {"test": "datum.value === 0", "value": "#231f20"}, "value": "#6d6e71"}, "gridWidth": 1}}
}
}
]
},
{
"width": 553, "height": 20,
"view": {"stroke": null},
"data": {"values": [{}]},
"mark": {"type": "rect", "fill": "#cfb787", "stroke": "#231f20", "strokeWidth": 1.5, "cornerRadius": 9},
"encoding": {"x": {"datum": -0.0958, "type": "quantitative", "scale": {"domain": [0, 1]}, "axis": null}, "x2": {"datum": 1},
             "y": {"datum": 0, "type": "quantitative", "scale": {"domain": [0, 1]}, "axis": null}, "y2": {"datum": 1}}
}
]
}
